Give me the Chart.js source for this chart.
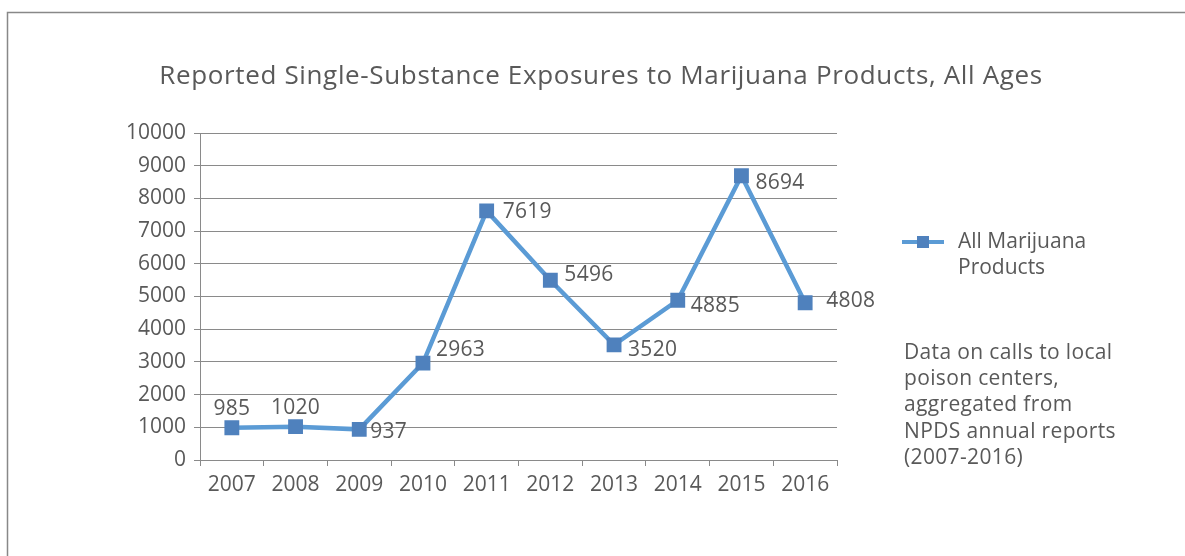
<!DOCTYPE html>
<html>
<head>
<meta charset="utf-8">
<script src="https://cdn.jsdelivr.net/npm/chart.js@4"></script>
<style>
  html, body { margin: 0; padding: 0; background: #fff; }
  #wrap { position: relative; width: 1185px; height: 556px; }
</style>
</head>
<body>
<div id="wrap"><canvas id="grafico" width="1185" height="556"></canvas></div>
<script>
const years = ['2007', '2008', '2009', '2010', '2011', '2012', '2013', '2014', '2015', '2016'];
const exposures = [985, 1020, 937, 2963, 7619, 5496, 3520, 4885, 8694, 4808];
const yTicks = [0, 1000, 2000, 3000, 4000, 5000, 6000, 7000, 8000, 9000, 10000];

const titulo = 'Reported Single-Substance Exposures to Marijuana Products, All Ages';
const serieNome = ['All Marijuana', 'Products'];
const nota = ['Data on calls to local', 'poison centers,', 'aggregated from', 'NPDS annual reports', '(2007-2016)'];

// label offsets (from the point centre) as Excel placed them
const labelShift = [[0, -19], [0, -19], [11, 3], [13, -13], [16, 1], [14, -5], [14, 5], [13, 6], [14, 7], [21, -2]];

const fonte = '"Open Sans", Lato, sans-serif';
const cinza = '#595959';

const extras = {
  id: 'extras',
  beforeDraw(chart) {
    const c = chart.ctx;
    c.save();
    c.strokeStyle = '#888888';
    c.lineWidth = 1.5;
    c.beginPath();
    c.moveTo(7.5, 556);
    c.lineTo(7.5, 12.5);
    c.lineTo(1185, 12.5);
    c.stroke();
    c.restore();
  },
  afterDraw(chart) {
    const c = chart.ctx;
    const ds = chart.data.datasets[0];
    const meta = chart.getDatasetMeta(0);
    c.save();
    c.fillStyle = cinza;

    // title
    c.font = '26px ' + fonte;
    c.letterSpacing = '0.65px';
    c.textAlign = 'center';
    c.textBaseline = 'middle';
    c.fillText(titulo, 601, 77);

    // data labels
    c.font = '21px ' + fonte;
    c.letterSpacing = '0.3px';
    meta.data.forEach((pt, i) => {
      const [dx, dy] = labelShift[i];
      c.textAlign = dx === 0 ? 'center' : 'left';
      c.fillText(String(ds.data[i]), pt.x + dx, pt.y + dy);
    });

    // legend
    c.strokeStyle = ds.borderColor;
    c.lineWidth = 4;
    c.beginPath();
    c.moveTo(902, 242);
    c.lineTo(944, 242);
    c.stroke();
    c.fillStyle = ds.pointBackgroundColor;
    c.fillRect(917, 236, 12, 12);
    c.fillStyle = cinza;
    c.textAlign = 'left';
    c.letterSpacing = '0px';
    serieNome.forEach((t, i) => c.fillText(t, 958, 242 + i * 26));

    // note
    c.letterSpacing = '0.35px';
    nota.forEach((t, i) => c.fillText(t, 904, 353 + i * 26.2));
    c.restore();
  }
};

const ctx = document.getElementById('grafico');

const chart = new Chart(ctx, {
  type: 'line',
  data: {
    labels: years,
    datasets: [{
      label: 'All Marijuana Products',
      data: exposures,
      borderColor: '#5B9BD5',
      borderWidth: 4.5,
      pointStyle: 'rect',
      pointRadius: 10.5,
      pointBackgroundColor: '#4F81BD',
      pointBorderColor: '#4F81BD',
      pointBorderWidth: 0,
      tension: 0
    }]
  },
  options: {
    responsive: false,
    animation: false,
    layout: { padding: { top: 133, right: 348, left: 0, bottom: 0 } },
    plugins: { legend: { display: false }, title: { display: false }, tooltip: { enabled: false } },
    scales: {
      x: {
        offset: true,
        grid: { offset: true, drawOnChartArea: false, drawTicks: true, tickLength: 6, color: '#8a8a8a' },
        border: { color: '#8a8a8a', width: 1 },
        ticks: { color: cinza, font: { family: fonte, size: 21 }, padding: 6, maxRotation: 0 },
        afterFit: s => { s.height = 96; }
      },
      y: {
        min: 0,
        max: 10000,
        afterBuildTicks: s => { s.ticks = yTicks.map(v => ({ value: v })); },
        grid: { color: '#8a8a8a', tickLength: 6 },
        border: { color: '#8a8a8a', width: 1 },
        ticks: { color: cinza, font: { family: fonte, size: 21 }, padding: 8, callback: v => String(v) },
        afterFit: s => { s.width = 200; }
      }
    }
  },
  plugins: [extras]
});
</script>
</body>
</html>
